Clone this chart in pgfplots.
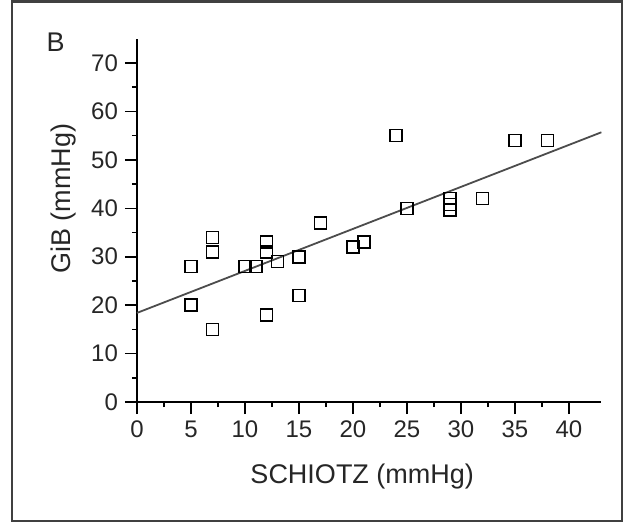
\documentclass[border=0pt]{standalone}
\usepackage{fontspec}
\setmainfont{Liberation Sans}
\usepackage{pgfplots}
\pgfplotsset{compat=1.18}

\begin{document}
\begin{tikzpicture}
  % outer frame, in pixel units of the reference (1px = 0.5pt)
  \begin{scope}[x=0.5pt,y=-0.5pt]
    \useasboundingbox (0,0) rectangle (628,525);
    \draw[line width=1.3pt, black!75] (12,1.5) rectangle (622,521);
  \end{scope}
  \begin{axis}[
      at={(68.5pt,-201pt)}, anchor=south west,
      scale only axis,
      width=232.2pt, height=181.6pt,
      xmin=0, xmax=43,
      ymin=0, ymax=75,
      axis lines=left,
      axis line style={line width=0.9pt, -},
      xtick={0,5,...,40},
      ytick={0,10,...,70},
      minor x tick num=1,
      minor y tick num=1,
      tick align=outside,
      major tick length=6pt,
      minor tick length=2.5pt,
      tick style={line width=0.8pt, black},
      every tick label/.append style={font=\fontsize{12}{14}\selectfont, text=black!85},
      /pgf/number format/assume math mode=true,
      xlabel={SCHIOTZ (mmHg)},
      ylabel={GiB (mmHg)},
      label style={font=\fontsize{13.5}{15}\selectfont, text=black!85},
      xlabel style={at={(axis description cs:0.485,-0.206)}, anchor=center},
      ylabel style={at={(axis description cs:-0.159,0.56)}, anchor=center},
      clip=false,
    ]
    % regression line
    \addplot[line width=0.9pt, black!70] coordinates {(0,18.4) (43,55.7)};
    % measurements
    \addplot[only marks, mark=square, mark size=3pt,
             mark options={line width=0.8pt, black}] coordinates {
      (5,28) (5,20) (7,34) (7,31) (7,15)
      (10,28) (11,28) (12,33) (12,31) (12,18)
      (13,29) (15,30) (15,22) (17,37) (20,32)
      (21,33) (24,55) (25,40) (29,42) (29,40.8)
      (29,39.6) (32,42) (35,54) (38,54)
    };
    \node[font=\fontsize{13.5}{15}\selectfont, text=black!85]
      at (axis description cs:-0.175,0.99) {B};
  \end{axis}
\end{tikzpicture}
\end{document}
